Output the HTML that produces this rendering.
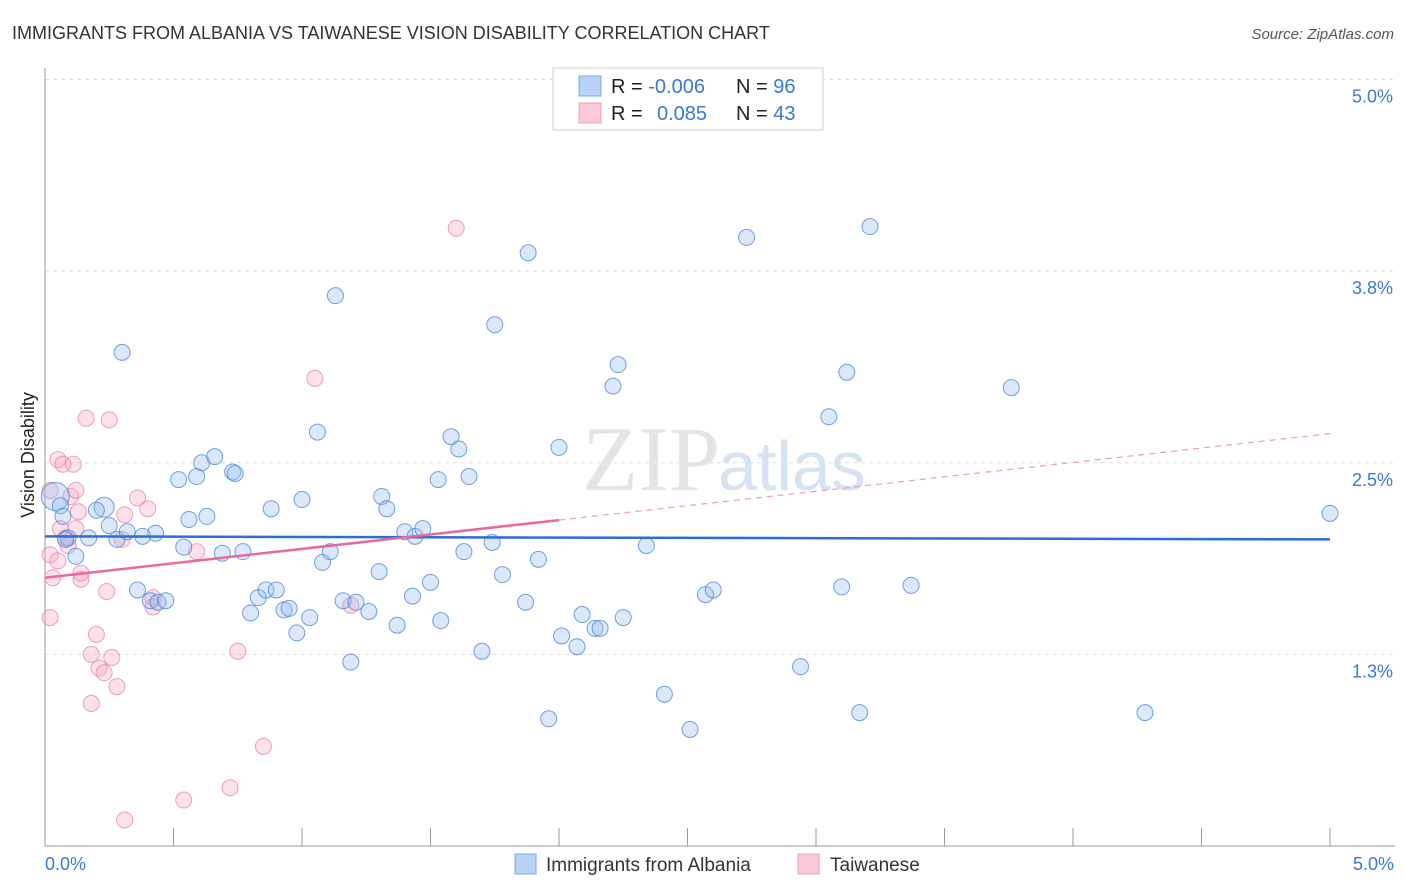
<!DOCTYPE html>
<html><head><meta charset="utf-8"><style>
body{margin:0;background:#fff;font-family:"Liberation Sans",sans-serif;}
svg{display:block}
</style></head><body>
<svg width="1406" height="892" xmlns="http://www.w3.org/2000/svg">
<text x="12" y="39" font-size="18" fill="#333">IMMIGRANTS FROM ALBANIA VS TAIWANESE VISION DISABILITY CORRELATION CHART</text>
<text x="1394" y="39" font-size="15" fill="#555" text-anchor="end" font-style="italic">Source: ZipAtlas.com</text>
<g id="grid"></g>
<text x="720" y="490" font-size="92" fill="#e4e4e4" text-anchor="end" font-family="Liberation Serif,serif">ZIP</text>
<text x="718" y="490" font-size="70" fill="#d5e3f3">atlas</text>
<line x1="45" y1="68" x2="45" y2="846" stroke="#999"/>
<line x1="45" y1="846" x2="1395" y2="846" stroke="#999"/>
<g id="xt"></g>
<g id="yl"></g>
<text x="34" y="455" font-size="18" fill="#222" text-anchor="middle" transform="rotate(-90 34 455)">Vision Disability</text>
<text x="45" y="870" font-size="18" fill="#3a78d4">0.0%</text>
<text x="1394" y="870" font-size="18" fill="#3a78d4" text-anchor="end">5.0%</text>
<g id="pts"></g>
<g id="trend"></g>
<g>
<rect x="553" y="68" width="270" height="62" fill="#fff" stroke="#ccc"/>
<rect x="579" y="76" width="22" height="20" fill="#b8d3f5" stroke="#7aa8e6"/>
<rect x="579" y="103" width="22" height="20" fill="#fac8d8" stroke="#eea0b8"/>
<text x="611" y="93" font-size="20" fill="#222">R = <tspan fill="#3a78d4">-0.006</tspan></text>
<text x="736" y="93" font-size="20" fill="#222">N = <tspan fill="#3a78d4">96</tspan></text>
<text x="611" y="120" font-size="20" fill="#222">R = <tspan fill="#3a78d4" x="657">0.085</tspan></text>
<text x="736" y="120" font-size="20" fill="#222">N = <tspan fill="#3a78d4">43</tspan></text>
</g>
<g>
<rect x="515" y="854" width="21" height="20" fill="#b8d3f5" stroke="#7aa8e6"/>
<text x="546" y="871" font-size="19" fill="#333">Immigrants from Albania</text>
<rect x="798" y="854" width="21" height="20" fill="#fac8d8" stroke="#eea0b8"/>
<text x="830" y="871" font-size="19" fill="#333">Taiwanese</text>
</g>
</svg>
<script>
const blueX=[.04,.06,.07,.12,.09,.17,.23,.25,.20,.28,.32,.30,.36,.41,.44,.47,.43,.38,.52,.54,.56,.59,.61,.63,.66,.69,.73,.74,.77,.80,.83,.86,.90,.88,.93,.95,.98,1.00,1.03,1.06,1.08,1.11,1.13,1.16,1.19,1.21,1.26,1.30,1.31,1.33,1.37,1.40,1.43,1.44,1.47,1.50,1.53,1.54,1.58,1.61,1.63,1.65,1.70,1.74,1.75,1.78,1.87,1.88,1.92,1.96,2.00,2.01,2.07,2.09,2.14,2.16,2.21,2.23,2.25,2.34,2.41,2.51,2.57,2.60,2.73,2.94,3.05,3.10,3.12,3.17,3.21,3.37,3.76,4.28,5.00,.08];
const blueY=[2.28,2.22,2.15,1.89,2.01,2.01,2.21,2.09,2.19,2.00,2.05,3.22,1.67,1.60,1.59,1.60,2.04,2.02,2.39,1.95,2.13,2.41,2.50,2.15,2.54,1.91,2.44,2.43,1.92,1.52,1.62,1.67,1.67,2.20,1.54,1.55,1.39,2.26,1.49,2.70,1.85,1.92,3.59,1.60,1.20,1.59,1.53,1.79,2.28,2.20,1.44,2.05,1.63,2.02,2.07,1.72,2.39,1.47,2.67,2.59,1.92,2.41,1.27,1.98,3.40,1.77,1.59,3.87,1.87,0.83,2.60,1.37,1.30,1.51,1.42,1.42,3.00,3.14,1.49,1.96,0.99,0.76,1.64,1.67,3.97,1.17,2.80,1.69,3.09,0.87,4.04,1.70,2.99,0.87,2.17,2.00];
const pinkX=[.02,.02,.03,.02,.05,.05,.06,.07,.08,.09,.10,.11,.12,.13,.14,.14,.16,.18,.18,.20,.21,.23,.24,.25,.26,.28,.31,.36,.40,.42,.42,.54,.59,.72,.75,.85,.31,1.05,1.19,1.60,.30,.12];
const pinkY=[2.32,1.90,1.75,1.49,1.86,2.52,2.07,2.49,2.01,1.96,2.28,2.49,2.32,2.18,1.74,1.78,2.79,1.25,0.93,1.38,1.16,1.13,1.66,2.78,1.23,1.04,2.16,2.27,2.20,1.62,1.56,0.30,1.92,0.38,1.27,0.65,0.17,3.05,1.57,4.03,2.00,2.07];
const yTicks=[5.0,3.75,2.5,1.25];
const yTickLabels=["5.0%","3.8%","2.5%","1.3%"];
const blueTrend=[2.02,2.00];
const pinkTrend=[1.75,2.69];
const NS="http://www.w3.org/2000/svg";
const sx=v=>45+v*257, sy=v=>846-v*153.3;
function mk(t,a,p){const e=document.createElementNS(NS,t);for(const k in a)e.setAttribute(k,a[k]);p.appendChild(e);return e;}
const grid=document.getElementById('grid'),yl=document.getElementById('yl'),xt=document.getElementById('xt');
yTicks.forEach((t,i)=>{
 const l=mk('line',{x1:45,x2:1395,y1:sy(t),y2:sy(t),stroke:'#ddd','stroke-dasharray':'4,4'},grid);
 
 
 const tx=mk('text',{x:1393,y:sy(t)+23,'font-size':18,fill:'#3a78d4','text-anchor':'end'},yl);
 tx.textContent=yTickLabels[i];
 
 
});
for(let i=0;i<=10;i++){
 const l=mk('line',{x1:sx(i*0.5),x2:sx(i*0.5),y1:828,y2:846,stroke:'#999'},xt);
 
 
}
const pts=document.getElementById('pts');
pinkX.forEach((x,i)=>{
 const c=mk('circle',{cx:sx(x),cy:sy(pinkY[i]),r:8,fill:'rgba(246,170,195,0.35)',stroke:'rgba(232,130,165,0.75)','stroke-width':1},pts);
 
 
});
blueX.forEach((x,i)=>{
 const r=i===0?14:(i===6?10:8);
 const c=mk('circle',{cx:sx(x),cy:sy(blueY[i]),r:r,fill:'rgba(150,190,240,0.35)',stroke:'rgba(70,130,215,0.75)','stroke-width':1},pts);
 
 
});
const tr=document.getElementById('trend');
const b=mk('line',{x1:sx(0),y1:sy(blueTrend[0]),x2:sx(5),y2:sy(blueTrend[1]),stroke:'#2a6fd6','stroke-width':2.5},tr);


const pAt=x=>pinkTrend[0]+(pinkTrend[1]-pinkTrend[0])*x/5;
const p1=mk('line',{x1:sx(0),y1:sy(pAt(0)),x2:sx(2),y2:sy(pAt(2)),stroke:'#e8699a','stroke-width':2.5},tr);


const p2=mk('line',{x1:sx(2),y1:sy(pAt(2)),x2:sx(5),y2:sy(pAt(5)),stroke:'#e8a0b8','stroke-width':1.2,'stroke-dasharray':'6,5'},tr);


</script>
</body></html>
